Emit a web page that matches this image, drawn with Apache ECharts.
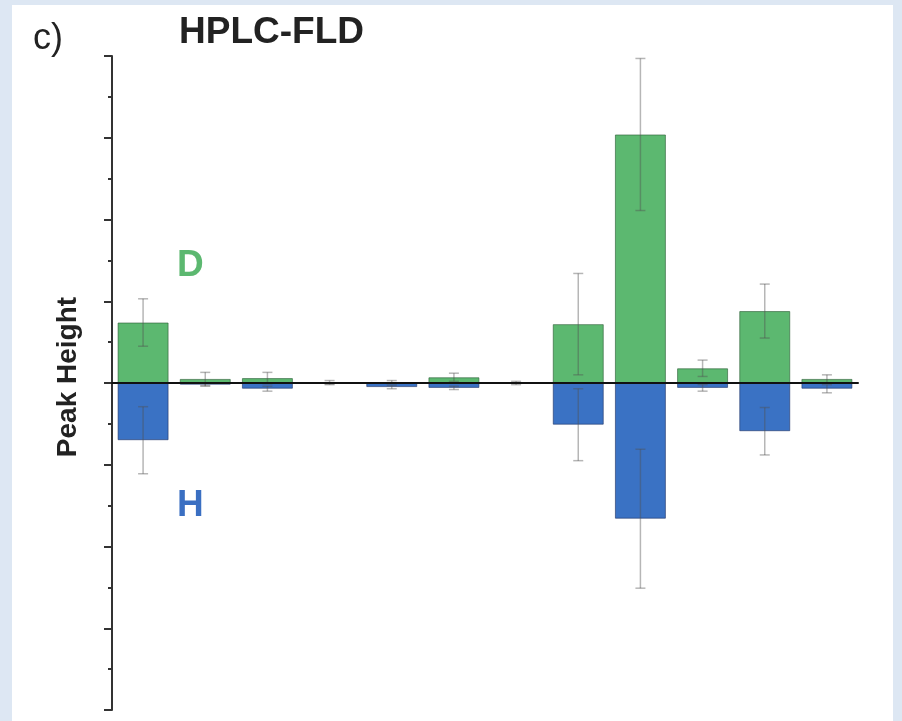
<!DOCTYPE html>
<html>
<head>
<meta charset="utf-8">
<script src="https://cdn.jsdelivr.net/npm/echarts@6/dist/echarts.min.js"></script>
<style>
html,body{margin:0;padding:0;background:#dde7f3;}
#chart{width:902px;height:721px;}
</style>
</head>
<body>
<div id="chart"></div>
<script>
// Data (arbitrary units, 100 = one major tick)
const categories = ['1','2','3','4','5','6','7','8','9','10','11','12'];
const dValues = [74, 5, 6, 1, 1, 7, 1, 72, 304, 18, 88, 5];
const dErrors = [29, 8, 7, 2, 2, 5, 1, 62, 93, 10, 33, 5];
const hValues = [-70, -2, -7, -1, -5, -6, -1, -51, -166, -6, -59, -7];
const hErrors = [41, 2, 3, 1, 2, 2, 1, 44, 85, 4, 29, 5];
const yTicks = [-400, -300, -200, -100, 0, 100, 200, 300, 400];

const chart = echarts.init(document.getElementById('chart'), null, {renderer: 'canvas'});

function errData(vals, errs) {
  return vals.map((v, i) => [i, v, errs[i]]);
}
function renderErr(params, api) {
  const x = api.value(0), v = api.value(1), e = api.value(2);
  const top = api.coord([x, v + e]);
  const bot = api.coord([x, v - e]);
  const cap = 5;
  const style = {stroke: 'rgba(80,80,80,0.42)', lineWidth: 1.5};
  return {
    type: 'group',
    children: [
      {type: 'line', shape: {x1: top[0], y1: top[1], x2: bot[0], y2: bot[1]}, style: style},
      {type: 'line', shape: {x1: top[0] - cap, y1: top[1], x2: top[0] + cap, y2: top[1]}, style: style},
      {type: 'line', shape: {x1: bot[0] - cap, y1: bot[1], x2: bot[0] + cap, y2: bot[1]}, style: style}
    ]
  };
}

const option = {
  backgroundColor: '#dde7f3',
  animation: false,
  graphic: [
    {type: 'rect', z: -10, shape: {x: 12, y: 5, width: 881, height: 716}, style: {fill: '#ffffff'}},
    {type: 'text', left: 33, top: 21, style: {text: 'c)', font: '36px "Liberation Sans", Arial, sans-serif', fill: '#222'}},
    {type: 'text', left: 179, top: 14, style: {text: 'HPLC-FLD', font: 'bold 37px "Liberation Sans", Arial, sans-serif', fill: '#222'}},
    {type: 'text', left: 177, top: 247, style: {text: 'D', font: 'bold 37px "Liberation Sans", Arial, sans-serif', fill: '#5cb870'}},
    {type: 'text', left: 177, top: 487, style: {text: 'H', font: 'bold 37px "Liberation Sans", Arial, sans-serif', fill: '#3a6fc2'}},
    {type: 'text', x: 68, y: 377, rotation: Math.PI / 2,
      style: {text: 'Peak Height', font: 'bold 28px "Liberation Sans", Arial, sans-serif', fill: '#222', align: 'center', verticalAlign: 'middle'}}
  ],
  grid: {left: 112, right: 44, top: 56, bottom: 11, containLabel: false},
  xAxis: {
    type: 'category',
    data: categories,
    z: 10,
    axisLine: {onZero: true, lineStyle: {color: '#111', width: 2}},
    axisTick: {show: false},
    axisLabel: {show: false},
    splitLine: {show: false}
  },
  yAxis: {
    type: 'value',
    min: yTicks[0],
    max: yTicks[yTicks.length - 1],
    interval: 100,
    axisLine: {show: true, onZero: false, lineStyle: {color: '#333', width: 2}},
    axisTick: {show: true, length: 8, lineStyle: {color: '#333', width: 2}},
    minorTick: {show: true, splitNumber: 2, length: 4, lineStyle: {color: '#333', width: 2}},
    axisLabel: {show: false},
    splitLine: {show: false}
  },
  series: [
    {
      name: 'D', type: 'bar', data: dValues, barWidth: 51, barGap: '-100%',
      itemStyle: {color: '#5cb870', borderColor: 'rgba(40,90,50,0.6)', borderWidth: 1}
    },
    {
      name: 'H', type: 'bar', data: hValues, barWidth: 51, barGap: '-100%',
      itemStyle: {color: '#3a72c4', borderColor: 'rgba(30,50,100,0.6)', borderWidth: 1}
    },
    {name: 'Derr', type: 'custom', renderItem: renderErr, data: errData(dValues, dErrors), z: 5},
    {name: 'Herr', type: 'custom', renderItem: renderErr, data: errData(hValues, hErrors), z: 5}
  ]
};
chart.setOption(option);
</script>
</body>
</html>
